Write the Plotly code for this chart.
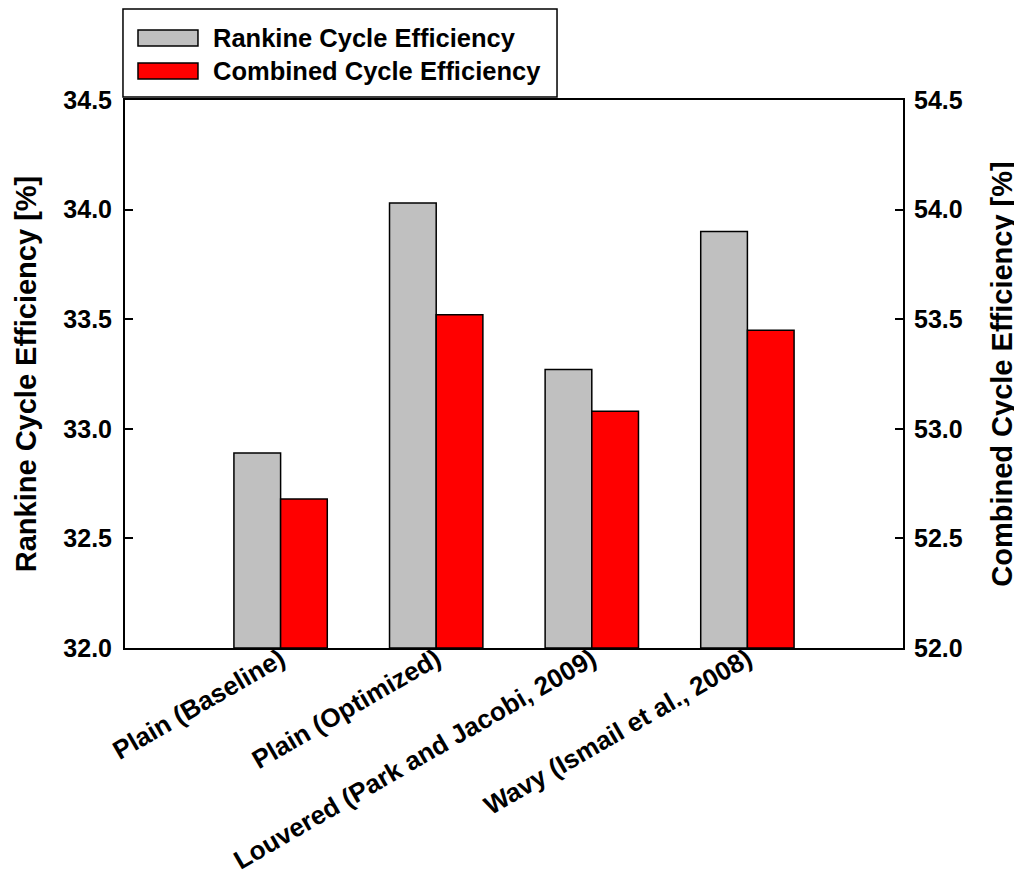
import plotly.graph_objects as go

categories = ["Plain (Baseline)", "Plain (Optimized)", "Louvered (Park and Jacobi, 2009)", "Wavy (Ismail et al., 2008)"]
rankine = [32.89, 34.03, 33.27, 33.90]
combined = [52.68, 53.52, 53.08, 53.45]
left_ticks = [32.0, 32.5, 33.0, 33.5, 34.0, 34.5]
right_ticks = [52.0, 52.5, 53.0, 53.5, 54.0, 54.5]
series_names = ["Rankine Cycle Efficiency", "Combined Cycle Efficiency"]
series_colors = ["#C0C0C0", "#FF0000"]

xpos = list(range(len(categories)))
FONT = "Liberation Sans, Arial, sans-serif"

fig = go.Figure()
fig.add_trace(go.Bar(
    x=xpos, y=[v - left_ticks[0] for v in rankine], base=left_ticks[0],
    name=series_names[0],
    marker=dict(color=series_colors[0], line=dict(color="black", width=1.5)),
    width=0.3, offset=-0.3, yaxis="y", showlegend=False,
))
fig.add_trace(go.Bar(
    x=xpos, y=[v - right_ticks[0] for v in combined], base=right_ticks[0],
    name=series_names[1],
    marker=dict(color=series_colors[1], line=dict(color="black", width=1.5)),
    width=0.3, offset=0.0, yaxis="y2", showlegend=False,
))

# Legend drawn manually (wide rectangular swatches, boxed)
shapes = [dict(type="rect", xref="paper", yref="paper", x0=-0.0026, x1=0.5553, y0=1.0055, y1=1.1661,
               line=dict(color="black", width=1.5), fillcolor="white", layer="above")]
annotations = []
sw_y = [(1.0985, 1.1277), (1.0383, 1.0675)]
txt_y = [1.1131, 1.0529]
for i in range(2):
    shapes.append(dict(type="rect", xref="paper", yref="paper", x0=0.0167, x1=0.0938,
                       y0=sw_y[i][0], y1=sw_y[i][1], fillcolor=series_colors[i],
                       line=dict(color="black", width=1.5), layer="above"))
    annotations.append(dict(xref="paper", yref="paper", x=0.1105, y=txt_y[i], xanchor="left", yanchor="middle",
                            text="<b>" + series_names[i] + "</b>", showarrow=False,
                            font=dict(size=25.5, family=FONT, color="black")))

fig.update_layout(
    width=1014, height=870,
    paper_bgcolor="white", plot_bgcolor="white",
    margin=dict(l=117, r=119, t=92, b=230, autoexpand=False),
    font=dict(family=FONT, color="black"),
    showlegend=False,
    shapes=shapes, annotations=annotations,
    xaxis=dict(
        range=[-1, 4], tickvals=xpos, automargin=False,
        ticktext=["<b>" + c + "</b>" for c in categories],
        tickangle=-30, tickfont=dict(size=26, family=FONT), ticklabelstandoff=-16,
        showline=True, linecolor="black", linewidth=2, mirror=True,
        ticks="", showgrid=False, zeroline=False,
    ),
    yaxis=dict(
        range=[left_ticks[0], left_ticks[-1]], tickvals=left_ticks, automargin=False,
        ticktext=["<b>%.1f</b>" % t for t in left_ticks],
        tickfont=dict(size=25, family=FONT), ticklabelstandoff=6,
        title=dict(text="<b>Rankine Cycle Efficiency [%]</b>", font=dict(size=29, family=FONT), standoff=18),
        showline=True, linecolor="black", linewidth=2,
        ticks="inside", ticklen=8, tickwidth=1.5, tickcolor="black",
        showgrid=False, zeroline=False,
    ),
    yaxis2=dict(
        range=[right_ticks[0], right_ticks[-1]], tickvals=right_ticks, automargin=False,
        ticktext=["<b>%.1f</b>" % t for t in right_ticks],
        tickfont=dict(size=25, family=FONT), ticklabelstandoff=4,
        title=dict(text="<b>Combined Cycle Efficiency [%]</b>", font=dict(size=29, family=FONT), standoff=30),
        overlaying="y", side="right",
        showline=True, linecolor="black", linewidth=2,
        ticks="inside", ticklen=8, tickwidth=1.5, tickcolor="black",
        showgrid=False, zeroline=False,
    ),
)

fig.write_html("out.html")
